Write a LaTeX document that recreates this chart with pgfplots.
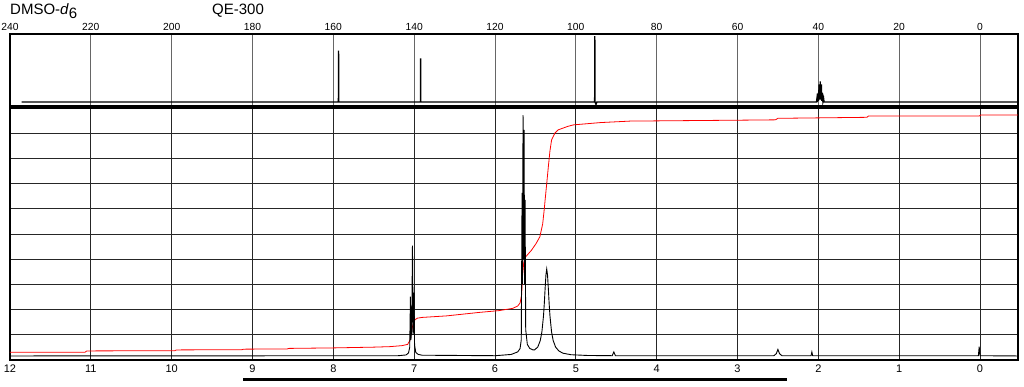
\documentclass[border=0pt]{standalone}
\usepackage{pgfplots}
\pgfplotsset{compat=1.18}
\usepackage{fontspec}
\setmainfont{Liberation Sans}
\begin{document}
\begin{tikzpicture}[x=1pt,y=1pt]
\useasboundingbox (0,0) rectangle (1024,387);
\pgfplotsset{every axis/.append style={scale only axis, width=1008pt, x dir=reverse,
  axis line style={line width=1.5pt}, tick style={draw=none},
  /pgf/number format/assume math mode=true}}
% ---------- 1H panel ----------
\begin{axis}[at={(10pt,27pt)}, anchor=south west, height=252pt,
  xmin=-0.47, xmax=12, ymin=0, ymax=10,
  xtick={0,...,12}, ytick={1,...,9}, yticklabels={},
  grid=major, grid style={black!85, line width=0.9pt},
  xticklabel style={font=\fontsize{11}{12}\selectfont, yshift=-1.2pt}]
\addplot[red, line width=0.8pt] coordinates {
(12.0,0.31)(11.07,0.31)(11.05,0.36)(9.96,0.37)(9.94,0.40)(9.13,0.41)(9.11,0.43)
(8.57,0.44)(8.55,0.46)(8.0,0.48)(7.5,0.51)(7.3,0.53)(7.15,0.57)(7.08,0.62)
(7.05,0.80)(7.03,1.20)(7.01,1.45)(6.99,1.60)(6.96,1.66)(6.90,1.69)(6.6,1.75)
(6.19,1.89)(5.95,1.96)(5.78,2.05)(5.72,2.14)(5.69,2.26)(5.67,2.6)(5.66,3.3)
(5.645,3.85)(5.63,4.06)(5.55,4.35)(5.49,4.63)(5.445,4.89)(5.41,5.4)(5.39,6.0)
(5.38,6.35)(5.36,7.0)(5.34,7.67)(5.32,8.3)(5.30,8.73)(5.26,9.0)(5.22,9.13)
(5.10,9.27)(5.03,9.33)(4.70,9.42)(4.33,9.48)(2.85,9.52)(2.53,9.53)(2.50,9.59)
(1.40,9.63)(1.38,9.68)(0.01,9.68)(-0.01,9.72)(-0.47,9.72)};
\addplot[black, line width=0.9pt] coordinates {
(12.0,0.16)(7.20,0.17)(7.10,0.20)(7.07,0.28)(7.055,0.5)(7.046,2.51)(7.040,0.8)
(7.030,1.2)(7.021,4.54)(7.012,1.0)(7.001,2.67)(6.995,0.6)(6.98,0.30)(6.95,0.22)
(6.90,0.19)(6.0,0.17)(5.80,0.22)(5.72,0.32)(5.69,0.45)(5.675,0.8)(5.665,6.63)
(5.660,3.0)(5.653,9.72)(5.647,4.0)(5.640,9.13)(5.634,3.0)(5.628,6.35)(5.620,1.2)
(5.60,0.62)(5.57,0.46)(5.53,0.40)(5.51,0.40)(5.47,0.52)(5.44,0.77)(5.42,1.11)
(5.40,1.75)(5.39,2.24)(5.38,2.83)(5.37,3.37)(5.36,3.61)(5.35,3.37)(5.34,2.83)
(5.33,2.24)(5.32,1.75)(5.30,1.11)(5.28,0.77)(5.25,0.51)(5.21,0.36)(5.16,0.27)
(5.06,0.21)(4.86,0.18)(4.55,0.17)(4.53,0.32)(4.51,0.17)(2.55,0.17)(2.52,0.25)
(2.50,0.42)(2.48,0.25)(2.45,0.17)(2.09,0.17)(2.08,0.32)(2.07,0.17)(0.02,0.17)
(0.01,0.53)(0.00,0.17)(-0.47,0.16)};
\end{axis}
% ---------- 13C panel ----------
\begin{axis}[at={(10pt,281pt)}, anchor=south west, height=72pt,
  xmin=-9.4, xmax=240, ymin=0, ymax=1,
  xtick={0,20,...,240}, ytick=\empty, xticklabel pos=upper,
  xmajorgrids, grid style={black!60, line width=0.8pt},
  xticklabel style={font=\fontsize{10.3}{11}\selectfont}]
\addplot[black, line width=1.3pt] coordinates {
(237.1,0.056)(158.75,0.056)(158.7,0.77)(158.65,0.056)(138.45,0.056)(138.4,0.66)
(138.35,0.056)(95.35,0.056)(95.3,0.97)(95.25,0.056)(95.0,0.02)(94.8,0.056)
(40.45,0.056)(40.36,0.10)(40.27,0.056)(40.08,0.18)(39.99,0.07)(39.80,0.30)(39.71,0.09)
(39.52,0.34)(39.43,0.09)(39.24,0.30)(39.15,0.07)(38.96,0.18)(38.87,0.056)(38.68,0.10)
(38.59,0.056)(-9.3,0.056)};
\end{axis}
\node[anchor=base west, inner sep=0pt, font=\fontsize{15}{16}\selectfont] at (10,372) {DMSO-\textit{d}\raisebox{-4pt}{6}};
\node[anchor=base west, inner sep=0pt, font=\fontsize{15}{16}\selectfont] at (212,372) {QE-300};
\draw[line width=2.4pt] (243,7.5) -- (787,7.5);
\end{tikzpicture}
\end{document}
